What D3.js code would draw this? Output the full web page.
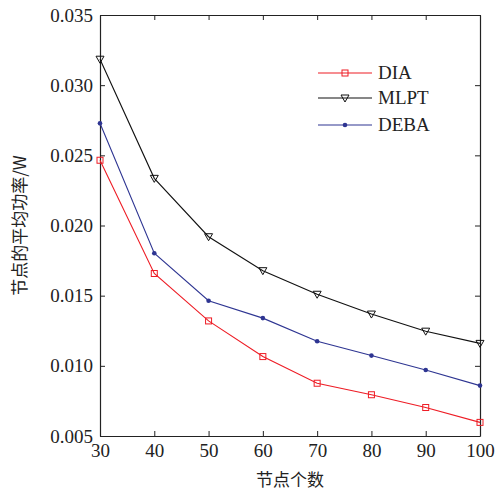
<!DOCTYPE html>
<html>
<head>
<meta charset="utf-8">
<title>节点的平均功率</title>
<script src="https://d3js.org/d3.v7.min.js"></script>
<style>
  body { margin: 0; background: #fff; }
</style>
</head>
<body>
<div id="chart"></div>
<script>
// data
const nodes = [30, 40, 50, 60, 70, 80, 90, 100];
const dia  = [0.02465, 0.01658, 0.0132, 0.01066, 0.00876, 0.00794, 0.00703, 0.00597];
const mlpt = [0.03185, 0.02336, 0.0192, 0.01678, 0.0151, 0.01369, 0.01247, 0.0116];
const deba = [0.02728, 0.01802, 0.01464, 0.01340, 0.01175, 0.01073, 0.0097, 0.00859];
const yTicks = [0.005, 0.010, 0.015, 0.020, 0.025, 0.030, 0.035];
const seriesNames = ["DIA", "MLPT", "DEBA"];

const serif = "'Liberation Serif', 'Times New Roman', serif";
const cjk = "'Noto Sans CJK SC', sans-serif";

const w = 500, h = 493;
const m = {top: 15, right: 20, bottom: 57, left: 100};

const svg = d3.select("#chart").append("svg")
  .attr("width", w).attr("height", h);

const x = d3.scaleLinear().domain([30, 100]).range([m.left, w - m.right]);
const y = d3.scaleLinear().domain([0.005, 0.035]).range([h - m.bottom, m.top]);

// axes, ticks pointing inward on every side
const tl = 5;
svg.append("g").attr("transform", `translate(0,${h - m.bottom})`)
  .call(d3.axisBottom(x).tickValues(nodes).tickSizeInner(-tl).tickSizeOuter(0).tickPadding(8))
  .call(g => g.attr("font-family", serif).attr("font-size", 19))
  .call(g => g.selectAll("text").attr("fill", "#222"));
svg.append("g").attr("transform", `translate(0,${m.top})`)
  .call(d3.axisTop(x).tickValues(nodes).tickSizeInner(-tl).tickSizeOuter(0).tickFormat(""));
svg.append("g").attr("transform", `translate(${m.left},0)`)
  .call(d3.axisLeft(y).tickValues(yTicks).tickFormat(d3.format(".3f")).tickSizeInner(-tl).tickSizeOuter(0).tickPadding(7))
  .call(g => g.attr("font-family", serif).attr("font-size", 19))
  .call(g => g.selectAll("text").attr("fill", "#222"));
svg.append("g").attr("transform", `translate(${w - m.right},0)`)
  .call(d3.axisRight(y).tickValues(yTicks).tickSizeInner(-tl).tickSizeOuter(0).tickFormat(""));
svg.selectAll(".domain").attr("stroke", "#222").attr("stroke-width", 1.2);
svg.selectAll(".tick line").attr("stroke", "#222");

// axis titles
svg.append("text")
  .attr("x", (m.left + w - m.right) / 2).attr("y", 486)
  .attr("text-anchor", "middle").attr("font-family", cjk).attr("font-size", 17).attr("fill", "#222")
  .text("节点个数");
svg.append("text")
  .attr("transform", `translate(26,${(m.top + h - m.bottom) / 2}) rotate(-90)`)
  .attr("text-anchor", "middle").attr("font-family", cjk).attr("font-size", 17).attr("fill", "#222")
  .text("节点的平均功率/W");

const series = [
  {name: seriesNames[0], vals: dia,  color: "#ee1c25", mark: "square"},
  {name: seriesNames[1], vals: mlpt, color: "#111111", mark: "tri"},
  {name: seriesNames[2], vals: deba, color: "#2e3592", mark: "dot"}
];

function drawMark(g, s, cx, cy) {
  if (s.mark === "square") {
    g.append("rect").attr("x", cx - 3).attr("y", cy - 3).attr("width", 6).attr("height", 6)
      .attr("fill", "none").attr("stroke", s.color).attr("stroke-width", 1);
  } else if (s.mark === "tri") {
    g.append("path").attr("d", `M${cx - 4},${cy - 3}L${cx + 4},${cy - 3}L${cx},${cy + 4}Z`)
      .attr("fill", "none").attr("stroke", s.color).attr("stroke-width", 1);
  } else {
    g.append("circle").attr("cx", cx).attr("cy", cy).attr("r", 2.3).attr("fill", s.color);
  }
}

const line = d3.line().x((d, i) => x(nodes[i])).y(d => y(d));
series.forEach(s => {
  const g = svg.append("g");
  g.append("path").datum(s.vals).attr("d", line)
    .attr("fill", "none").attr("stroke", s.color).attr("stroke-width", 1.1);
  s.vals.forEach((v, i) => drawMark(g, s, x(nodes[i]), y(v)));
});

// legend
const lx0 = 318, lx1 = 372, ly = [73, 98, 125];
series.forEach((s, i) => {
  const g = svg.append("g");
  g.append("line").attr("x1", lx0).attr("x2", lx1).attr("y1", ly[i]).attr("y2", ly[i])
    .attr("stroke", s.color).attr("stroke-width", 1.1);
  drawMark(g, s, (lx0 + lx1) / 2, ly[i]);
  g.append("text").attr("x", 378).attr("y", ly[i] + 6)
    .attr("font-family", serif).attr("font-size", 19).attr("fill", "#222").text(s.name);
});
</script>
</body>
</html>
